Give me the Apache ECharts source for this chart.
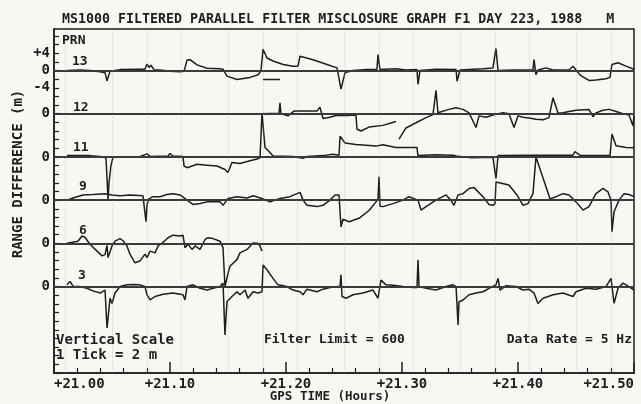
<!DOCTYPE html>
<html>
<head>
<meta charset="utf-8">
<script src="https://cdn.jsdelivr.net/npm/echarts@6/dist/echarts.min.js"></script>
<style>
  html, body { margin: 0; padding: 0; background: #f7f7f4; }
  #chart { width: 641px; height: 404px; }
</style>
</head>
<body>
<div id="chart"></div>
<script>
// Range misclosure per satellite, metres, against GPS time in hours.
// Each trace is drawn around its own zero line (see rowZero).

const prn13 = [
  [21.0112, 0], [21.0224, 0.1], [21.0310, 0], [21.0397, -0.3], [21.0440, -0.5], [21.0457, -2.4],
  [21.0483, -0.2], [21.0569, 0.2], [21.0741, 0.3], [21.0784, 0.3], [21.0802, 1.5], [21.0819, 0.7],
  [21.0836, 1.2], [21.0862, 0.2], [21.0914, 0.1], [21.1000, -0.2], [21.1086, -0.3], [21.1121, -0.2],
  [21.1147, 2.4], [21.1172, 2.5], [21.1233, 1.3], [21.1319, 0.5], [21.1431, 0.4], [21.1457, 0.3],
  [21.1491, -1.3], [21.1578, -2.1], [21.1690, -1.6], [21.1759, -1.0], [21.1784, -0.1], [21.1802, 4.9],
  [21.1836, 2.9], [21.1888, 2.2], [21.1976, 1.4], [21.2060, 1.0], [21.2103, 1.0], [21.2121, 3.3],
  [21.2233, 2.5], [21.2353, 1.4], [21.2440, 0.6], [21.2457, 0.5], [21.2474, -4.3], [21.2509, -0.5],
  [21.2578, 0], [21.2698, 0.2], [21.2784, 0.3], [21.2793, 3.7], [21.2810, 0.2], [21.2948, 0.4],
  [21.3034, 0.1], [21.3129, 0.2], [21.3138, -3.2], [21.3155, 0.0], [21.3293, 0.3], [21.3466, 0.2],
  [21.3475, -2.5], [21.3500, 0.1], [21.3700, 0.4], [21.3784, 0.6], [21.3810, 5.1], [21.3828, 0.0],
  [21.3966, 0.1], [21.4129, 0.1], [21.4138, 2.5], [21.4155, -1.0], [21.4172, 0.1], [21.4241, 0.6],
  [21.4302, 0.1], [21.4440, 0.1], [21.4474, 1.0], [21.4534, -1.0], [21.4560, -1.5], [21.4612, -2.3],
  [21.4672, -2.2], [21.4759, -1.9], [21.4793, -1.6], [21.4810, 1.4], [21.4862, 1.8], [21.4931, 1.0],
  [21.5000, 0.3]
];
const prn13b = [[21.1802, -2.1], [21.1948, -2.1]];

const prn12a = [
  [21.0103, 0], [21.1784, 0], [21.1940, 0.1], [21.1948, 2.5], [21.1957, 0.0], [21.2017, -0.5],
  [21.2069, 0.6], [21.2267, 0.6], [21.2293, 1.5], [21.2319, -1.1], [21.2379, -0.8], [21.2431, -0.4],
  [21.2517, -0.4], [21.2603, -0.3], [21.2612, -3.6], [21.2647, -4.0], [21.2716, -3.1], [21.2836, -2.7],
  [21.2948, -1.8]
];
const prn12b = [
  [21.2974, -5.9], [21.3034, -3.3], [21.3121, -2.1], [21.3207, -0.9], [21.3267, -0.2], [21.3293, 5.4],
  [21.3310, 0.2], [21.3405, 1.0], [21.3466, 1.4], [21.3526, 1.0], [21.3578, 0.2], [21.3638, -3.2],
  [21.3664, -0.5], [21.3724, -0.8], [21.3784, -0.3], [21.3871, 0.2], [21.3922, 0.0], [21.3966, -3.2],
  [21.4000, -0.5], [21.4043, -0.8], [21.4095, -1.0], [21.4155, -1.3], [21.4216, -1.4], [21.4267, -0.9],
  [21.4302, 3.7], [21.4345, 0.1], [21.4388, 0.2], [21.4440, 0.5], [21.4500, 0.8], [21.4612, 1.0],
  [21.4647, -0.7], [21.4672, 0.2], [21.4733, 0.8], [21.4784, 1.0], [21.4845, 0.5], [21.4905, 0.0],
  [21.4957, -0.3], [21.4991, -2.8], [21.5000, -0.5]
];

const prn11 = [
  [21.0112, 0.3], [21.0310, 0.3], [21.0397, 0.1], [21.0448, -0.2], [21.0466, -9.8], [21.0474, -6.0],
  [21.0491, -2.0], [21.0509, 0], [21.0741, 0.1], [21.0802, 0.7], [21.0828, 0.1], [21.0983, 0.2],
  [21.1000, 0.8], [21.1026, 0.2], [21.1112, 0.1], [21.1121, -2.1], [21.1147, -2.5], [21.1233, -1.7],
  [21.1319, -1.9], [21.1405, -2.1], [21.1474, -2.9], [21.1500, -3.6], [21.1534, -1.3], [21.1603, -1.5],
  [21.1690, -0.9], [21.1750, -0.5], [21.1776, -0.2], [21.1793, 10.1], [21.1819, 2.2], [21.1862, 1.0],
  [21.1888, 0.2], [21.2060, 0.1], [21.2147, -0.3], [21.2181, 0.1], [21.2319, 0.3], [21.2405, 0.6],
  [21.2457, 0.4], [21.2466, 4.8], [21.2509, 3.2], [21.2603, 2.9], [21.2776, 2.5], [21.2836, 2.8],
  [21.2948, 2.2], [21.3129, 2.2], [21.3138, 0.3], [21.3293, 0.5], [21.3440, 0.4], [21.3466, 0.2],
  [21.3600, -0.2], [21.3784, -0.1], [21.3810, -5.0], [21.3828, 0.3], [21.4129, 0.4], [21.4474, 0.4],
  [21.4491, 1.2], [21.4534, 0.4], [21.4793, 0.3], [21.4810, 5.3], [21.4845, 2.6], [21.4931, 2.2],
  [21.5000, 2.1]
];

const prn9 = [
  [21.0112, 0], [21.0164, 0.5], [21.0250, 1.2], [21.0336, 1.3], [21.0440, 1.5], [21.0500, 1.2],
  [21.0569, 1.0], [21.0655, 1.2], [21.0767, 1.0], [21.0784, 0.8], [21.0793, -5.0], [21.0802, -1.0],
  [21.0819, 0.3], [21.0853, 0.8], [21.0914, 0.8], [21.0974, 1.3], [21.1026, 1.5], [21.1086, 1.2],
  [21.1147, 0], [21.1198, -1.0], [21.1259, -0.8], [21.1319, -0.4], [21.1431, -0.4], [21.1457, -1.2],
  [21.1500, 0.4], [21.1578, 0.8], [21.1664, 0.5], [21.1716, 1.0], [21.1793, 0.4], [21.1862, -0.4],
  [21.1948, 0.4], [21.2034, 0.8], [21.2121, 1.8], [21.2147, 0], [21.2181, -1.2], [21.2267, -1.5],
  [21.2319, -1.2], [21.2379, 0], [21.2422, 1.2], [21.2457, 1.2], [21.2474, -6.2], [21.2491, -4.4],
  [21.2543, -5.0], [21.2629, -4.2], [21.2716, -2.4], [21.2776, -0.4], [21.2793, 0.2], [21.2802, 5.4],
  [21.2810, -1.4], [21.2836, -1.5], [21.2922, -0.8], [21.3009, 0], [21.3060, 0.8], [21.3138, 0],
  [21.3164, -2.3], [21.3207, -1.5], [21.3293, 0], [21.3379, 1.2], [21.3422, 0], [21.3448, -1.2],
  [21.3483, 1.2], [21.3526, 1.5], [21.3578, 2.7], [21.3621, 2.9], [21.3698, 0.8], [21.3750, -1.0],
  [21.3784, -1.2], [21.3802, -0.8], [21.3810, 4.2], [21.3922, 3.5], [21.3991, 1.2], [21.4043, -1.2],
  [21.4086, -0.8], [21.4129, 1.5], [21.4155, 10.0], [21.4276, 0.3], [21.4328, 0.8], [21.4388, 1.5],
  [21.4440, 1.2], [21.4500, -0.4], [21.4560, -2.3], [21.4612, -1.5], [21.4672, 1.5], [21.4733, 2.7],
  [21.4776, 1.9], [21.4802, 0], [21.4810, -7.3], [21.4828, -2.7], [21.4871, 0], [21.4914, 1.5],
  [21.4957, 1.3], [21.5000, 0.8]
];

const prn6 = [
  [21.0112, 0], [21.0207, 0.5], [21.0241, 1.7], [21.0267, 1.4], [21.0310, -0.2], [21.0371, -1.8],
  [21.0414, -2.9], [21.0440, -2.6], [21.0457, -0.5], [21.0466, -3.3], [21.0500, -0.6], [21.0526, 0.5],
  [21.0569, 1.1], [21.0595, 0.6], [21.0629, -0.6], [21.0655, -2.5], [21.0698, -4.5], [21.0741, -4.1],
  [21.0784, -2.5], [21.0802, -3.3], [21.0828, -1.8], [21.0871, -2.2], [21.0897, -0.6], [21.0940, 0.2],
  [21.0983, 1.3], [21.1026, 1.9], [21.1086, 1.7], [21.1112, 1.9], [21.1129, -1.0], [21.1155, -0.2],
  [21.1190, -1.4], [21.1216, -0.6], [21.1259, -1.4], [21.1302, 0.9], [21.1328, 1.3], [21.1371, 1.1],
  [21.1431, 0.5], [21.1457, -1.0], [21.1474, -10.0], [21.1500, -7.0], [21.1517, -5.3], [21.1578, -3.7],
  [21.1603, -2.2], [21.1664, -1.4], [21.1716, 0.1], [21.1733, 0.2], [21.1759, 0.0], [21.1776, -0.6],
  [21.1793, -1.8]
];

const prn3 = [
  [21.0112, 0.4], [21.0138, 1.2], [21.0164, 0.1], [21.0224, 0], [21.0284, -0.4], [21.0336, -1.0],
  [21.0397, -1.5], [21.0440, -0.8], [21.0457, -9.6], [21.0483, -2.7], [21.0500, -3.9], [21.0526, -1.5],
  [21.0569, 0], [21.0629, 0.4], [21.0681, 0.5], [21.0741, 0.4], [21.0784, 0], [21.0802, -1.9],
  [21.0828, -3.1], [21.0871, -2.3], [21.0940, -1.8], [21.1026, -1.5], [21.1112, -1.9], [21.1129, -3.1],
  [21.1147, 0], [21.1198, 0.4], [21.1259, -0.4], [21.1319, -0.8], [21.1371, -0.4], [21.1431, 0],
  [21.1457, 0.8], [21.1474, -11.2], [21.1491, -3.5], [21.1534, -2.3], [21.1578, -1.2], [21.1603, -1.9],
  [21.1647, -0.8], [21.1672, -2.7], [21.1716, -1.2], [21.1759, -1.5], [21.1793, -1.2], [21.1802, 5.0],
  [21.1836, 3.9], [21.1888, 1.9], [21.1931, 0.4], [21.2009, 0], [21.2060, -0.8], [21.2121, -1.2],
  [21.2147, -1.9], [21.2181, -0.6], [21.2267, -1.2], [21.2319, -0.6], [21.2379, -0.2], [21.2440, 0],
  [21.2466, 0.1], [21.2474, 2.7], [21.2483, -2.3], [21.2517, -2.7], [21.2578, -1.9], [21.2664, -1.5],
  [21.2750, -0.8], [21.2793, -2.7], [21.2819, 1.5], [21.2862, 0.4], [21.2922, 0.3], [21.3009, 0],
  [21.3095, -0.2], [21.3129, -0.2], [21.3138, 6.2], [21.3147, 0], [21.3207, -0.4], [21.3293, -0.8],
  [21.3379, 0], [21.3440, 0.4], [21.3466, 0], [21.3483, -8.9], [21.3491, -3.5], [21.3526, -3.1],
  [21.3578, -1.9], [21.3638, -1.5], [21.3698, -1.2], [21.3750, -0.4], [21.3810, 0.4], [21.3828, 1.9],
  [21.3845, -0.8], [21.3897, 0.2], [21.3983, 0], [21.4043, -0.8], [21.4095, -0.6], [21.4138, -1.5],
  [21.4172, -3.9], [21.4216, -2.7], [21.4302, -1.9], [21.4388, -1.5], [21.4474, -2.3], [21.4500, -1.2],
  [21.4586, -0.4], [21.4672, -0.6], [21.4759, 0], [21.4802, 1.9], [21.4828, -3.9], [21.4862, -0.4],
  [21.4905, 0.8], [21.4957, 0], [21.5000, -0.8]
];

// Two-minute filter resets, shown as faint dotted verticals
const resetTimes = [21.0112, 21.0457, 21.0802, 21.1129, 21.1457, 21.1793, 21.2121, 21.2474,
                    21.2802, 21.3138, 21.3466, 21.3810, 21.4138, 21.4474, 21.4802];

const prnNames = ['13', '12', '11', '9', '6', '3'];
const rowZero = { '13': 70, '12': 60, '11': 50, '9': 40, '6': 30, '3': 20 };
const yTickText = { 74: '+4', 70: '0', 66: '-4', 60: '0', 50: '0', 40: '0', 30: '0', 20: '0' };
const xTicks = ['+21.00', '+21.10', '+21.20', '+21.30', '+21.40', '+21.50'];

const FONT = 'DejaVu Sans Mono';
const INK = '#1e1e1e';

function shift(arr, prn) {
  return arr.map(p => [p[0], p[1] + rowZero[prn]]);
}

const traces = [
  ['13', prn13], ['13', prn13b], ['12', prn12a], ['12', prn12b],
  ['11', prn11], ['9', prn9], ['6', prn6], ['3', prn3]
];

const series = traces.map(([prn, arr]) => ({
  type: 'line',
  name: 'PRN ' + prn,
  data: shift(arr, prn),
  showSymbol: false,
  symbol: 'none',
  lineStyle: { color: INK, width: 1.5 },
  z: 3
}));

series.push({
  type: 'line',
  name: 'zero',
  data: [],
  markLine: {
    silent: true,
    symbol: 'none',
    label: { show: false },
    lineStyle: { color: '#3a3a3a', width: 1.8, type: 'solid' },
    data: prnNames.map(p => ({ yAxis: rowZero[p] }))
  },
  z: 2
});

series.push({
  type: 'line',
  name: 'resets',
  data: [],
  markLine: {
    silent: true,
    symbol: 'none',
    label: { show: false },
    lineStyle: { color: '#8a8a8a', width: 1, type: 'dotted', opacity: 0.3 },
    data: resetTimes.map(t => ({ xAxis: t }))
  },
  z: 1
});

const txt = (x, y, s, extra) => ({
  type: 'text', x: x, y: y,
  style: Object.assign({
    text: s, fill: INK, font: 'bold 13px "' + FONT + '"',
    textVerticalAlign: 'middle', verticalAlign: 'middle'
  }, extra || {})
});

const chart = echarts.init(document.getElementById('chart'), null, { renderer: 'canvas' });
chart.setOption({
  animation: false,
  backgroundColor: '#f7f7f4',
  grid: { left: 54, right: 7, top: 29, bottom: 31, show: true, borderColor: INK, borderWidth: 1.5, backgroundColor: 'transparent' },
  xAxis: {
    type: 'value', min: 21.0, max: 21.5, interval: 0.1,
    axisLine: { show: true, lineStyle: { color: INK, width: 1.5 } },
    axisTick: { show: true, inside: true, length: 11, lineStyle: { color: INK, width: 1.5 } },
    minorTick: { show: true, splitNumber: 5, length: 5, lineStyle: { color: INK, width: 1.2 } },
    splitLine: { show: false },
    axisLabel: {
      margin: 4, color: INK, fontFamily: FONT, fontWeight: 'bold', fontSize: 14,
      alignMinLabel: 'left', alignMaxLabel: 'right',
      formatter: v => xTicks[Math.round((v - 21) * 10)] || ''
    }
  },
  yAxis: {
    type: 'value', min: 0, max: 79.6, interval: 2,
    axisLine: { show: true, lineStyle: { color: INK, width: 1.5 } },
    axisTick: { show: true, inside: true, length: 5, lineStyle: { color: INK, width: 1.2 } },
    splitLine: { show: false },
    axisLabel: {
      margin: 4, color: INK, fontFamily: FONT, fontWeight: 'bold', fontSize: 14,
      showMaxLabel: false,
      formatter: v => yTickText[Math.round(v)] !== undefined && Math.abs(v - Math.round(v)) < 1e-6 ? yTickText[Math.round(v)] : ''
    }
  },
  graphic: [
    txt(62, 20, 'MS1000 FILTERED PARALLEL FILTER MISCLOSURE GRAPH F1 DAY 223, 1988   M', { font: 'bold 13.3px "' + FONT + '"' }),
    txt(62, 41, 'PRN'),
    txt(72, 62, '13'),
    txt(73, 108, '12'),
    txt(73, 148, '11'),
    txt(79, 187, '9'),
    txt(79, 231, '6'),
    txt(78, 276, '3'),
    txt(56, 340, 'Vertical Scale', { font: 'bold 14px "' + FONT + '"' }),
    txt(56, 355, '1 Tick = 2 m', { font: 'bold 14px "' + FONT + '"' }),
    txt(264, 340, 'Filter Limit = 600'),
    txt(632, 340, 'Data Rate = 5 Hz', { textAlign: 'right', align: 'right' }),
    txt(330, 397, 'GPS TIME (Hours)', { textAlign: 'center', align: 'center', font: 'bold 12.5px "' + FONT + '"' }),
    {
      type: 'text', x: 18, y: 174, rotation: Math.PI / 2,
      style: {
        text: 'RANGE DIFFERENCE (m)', fill: INK, font: 'bold 14px "' + FONT + '"',
        textAlign: 'center', align: 'center', textVerticalAlign: 'middle', verticalAlign: 'middle'
      }
    }
  ],
  series: series
});
</script>
</body>
</html>
